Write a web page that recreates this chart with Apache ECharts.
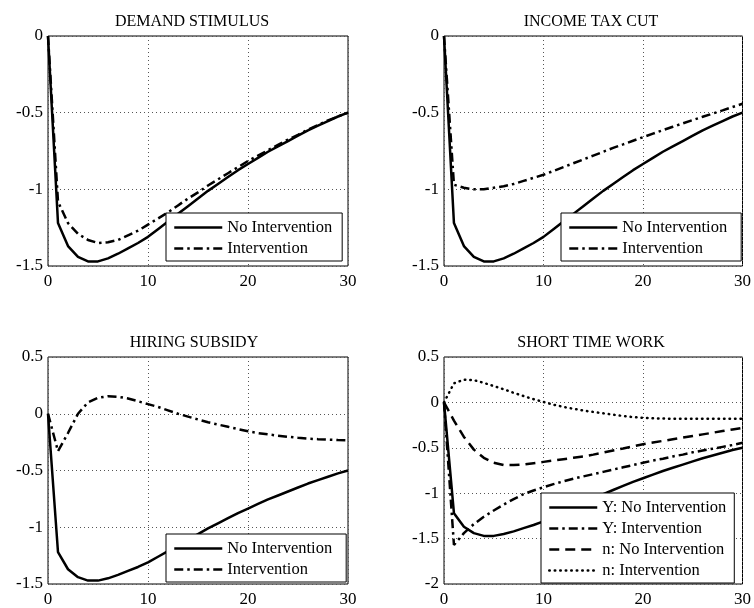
<!DOCTYPE html>
<html>
<head>
<meta charset="utf-8">
<script src="https://cdn.jsdelivr.net/npm/echarts@6/dist/echarts.min.js"></script>
<style>html,body{margin:0;padding:0;background:#fff;}#c{width:754px;height:608px;}</style>
</head>
<body>
<div id="c"></div>
<script>
const t = [0,1,2,3,4,5,6,7,8,9,10,11,12,13,14,15,16,17,18,19,20,21,22,23,24,25,26,27,28,29,30];
const yNoIntervention = [0,-1.22,-1.37,-1.44,-1.47,-1.47,-1.45,-1.42,-1.385,-1.35,-1.31,-1.26,-1.21,-1.16,-1.11,-1.06,-1.01,-0.965,-0.92,-0.875,-0.835,-0.795,-0.755,-0.72,-0.685,-0.65,-0.615,-0.585,-0.555,-0.525,-0.5];
const demandIntervention = [0,-1.08,-1.22,-1.29,-1.33,-1.35,-1.345,-1.33,-1.30,-1.27,-1.23,-1.19,-1.15,-1.105,-1.06,-1.02,-0.975,-0.935,-0.895,-0.855,-0.815,-0.78,-0.745,-0.71,-0.675,-0.645,-0.61,-0.58,-0.55,-0.525,-0.5];
const taxIntervention = [0,-0.97,-0.99,-1.0,-1.0,-0.99,-0.98,-0.965,-0.945,-0.925,-0.905,-0.88,-0.855,-0.83,-0.805,-0.78,-0.755,-0.73,-0.707,-0.683,-0.66,-0.637,-0.614,-0.592,-0.57,-0.548,-0.527,-0.506,-0.485,-0.463,-0.442];
const hiringIntervention = [0,-0.33,-0.17,0.0,0.1,0.14,0.155,0.15,0.135,0.11,0.085,0.06,0.03,0.0,-0.025,-0.05,-0.075,-0.095,-0.115,-0.135,-0.155,-0.17,-0.182,-0.193,-0.203,-0.212,-0.219,-0.224,-0.228,-0.231,-0.233];
const stwYIntervention = [0,-1.57,-1.44,-1.34,-1.26,-1.19,-1.125,-1.065,-1.01,-0.97,-0.935,-0.9,-0.87,-0.84,-0.815,-0.79,-0.765,-0.74,-0.715,-0.69,-0.665,-0.64,-0.62,-0.595,-0.575,-0.55,-0.53,-0.51,-0.49,-0.47,-0.445];
const stwNNoIntervention = [0,-0.2,-0.38,-0.52,-0.61,-0.665,-0.69,-0.69,-0.685,-0.67,-0.655,-0.64,-0.625,-0.61,-0.595,-0.575,-0.553,-0.53,-0.507,-0.483,-0.46,-0.442,-0.424,-0.406,-0.388,-0.37,-0.352,-0.334,-0.316,-0.298,-0.28];
const stwNIntervention = [0,0.21,0.25,0.245,0.215,0.18,0.145,0.105,0.07,0.035,0.005,-0.025,-0.05,-0.07,-0.09,-0.105,-0.12,-0.135,-0.15,-0.162,-0.17,-0.175,-0.178,-0.18,-0.18,-0.18,-0.18,-0.18,-0.18,-0.18,-0.18];
const titles = ['DEMAND STIMULUS','INCOME TAX CUT','HIRING SUBSIDY','SHORT TIME WORK'];
const yRanges = [[-1.5,0],[-1.5,0],[-1.5,0.5],[-2,0.5]];

const FONT = 'Liberation Serif';
const grids = [
  {left:48, top:36}, {left:444, top:36}, {left:48, top:357}, {left:444, top:357}
].map(g => Object.assign(g, {width:300, height:230, show:true, borderColor:'#000', borderWidth:1, backgroundColor:'transparent', containLabel:false}));

const dotted = {type:[1,3], color:'#555', width:1};
const xAxes = grids.map((g,i)=>({gridIndex:i, type:'value', min:0, max:30, interval:10,
  axisLine:{show:false}, axisTick:{show:false},
  splitLine:{show:true, lineStyle:dotted},
  axisLabel:{color:'#000', fontFamily:FONT, fontSize:17, margin:7}}));
const yAxes = grids.map((g,i)=>({gridIndex:i, type:'value', min:yRanges[i][0], max:yRanges[i][1], interval:0.5,
  axisLine:{show:false}, axisTick:{show:false},
  splitLine:{show:true, lineStyle:dotted},
  axisLabel:{color:'#000', fontFamily:FONT, fontSize:17, margin:5}}));

const SOLID = 'solid', DASHDOT = [9,4,2.5,4], DASHED = [10,6], DOTTED = [0.5,5];
function mk(name, idx, arr, type, cap){
  return {name:name, type:'line', xAxisIndex:idx, yAxisIndex:idx, symbol:'none', silent:true, animation:false,
    data: t.map((x,k)=>[x, arr[k]]),
    itemStyle:{color:'#000'},
    lineStyle:{color:'#000', width:2.5, type:type, cap: cap || 'butt'}};
}
const series = [
  mk('No Intervention',0,yNoIntervention,SOLID),
  mk('Intervention',0,demandIntervention,DASHDOT),
  mk('No Intervention',1,yNoIntervention,SOLID),
  mk('Intervention',1,taxIntervention,DASHDOT),
  mk('No Intervention',2,yNoIntervention,SOLID),
  mk('Intervention',2,hiringIntervention,DASHDOT),
  mk('Y: No Intervention',3,yNoIntervention,SOLID),
  mk('Y: Intervention',3,stwYIntervention,DASHDOT),
  mk('n: No Intervention',3,stwNNoIntervention,DASHED),
  mk('n: Intervention',3,stwNIntervention,DOTTED,'round')
];

function lg(left, top, data, padR){
  return {left:left, top:top, orient:'vertical', data:data, selectedMode:false,
    backgroundColor:'#fff', borderColor:'#000', borderWidth:1, padding:[6,padR,4,7],
    itemWidth:48, itemHeight:14, itemGap:4,
    itemStyle:{opacity:0, borderWidth:0},
    lineStyle:{width:2.5, color:'#000'},
    textStyle:{fontFamily:FONT, fontSize:16.5, color:'#000'}};
}
const titleCenters = [[187,9],[586,9],[189,330],[586,330]];
const option = {
  animation:false,
  title: titles.map((s,i)=>({text:s, left:titleCenters[i][0], top:titleCenters[i][1], textAlign:'center',
    textStyle:{fontFamily:FONT, fontSize:16, fontWeight:'normal', color:'#000'}})),
  grid: grids, xAxis: xAxes, yAxis: yAxes, series: series,
  legend: [
    lg(166,213,['No Intervention','Intervention'],10),
    lg(561,213,['No Intervention','Intervention'],14),
    lg(166,534,['No Intervention','Intervention'],14),
    lg(541,493,['Y: No Intervention','Y: Intervention','n: No Intervention','n: Intervention'],8)
  ]
};
const chart = echarts.init(document.getElementById('c'), null, {renderer:'canvas'});
chart.setOption(option);
</script>
</body>
</html>
